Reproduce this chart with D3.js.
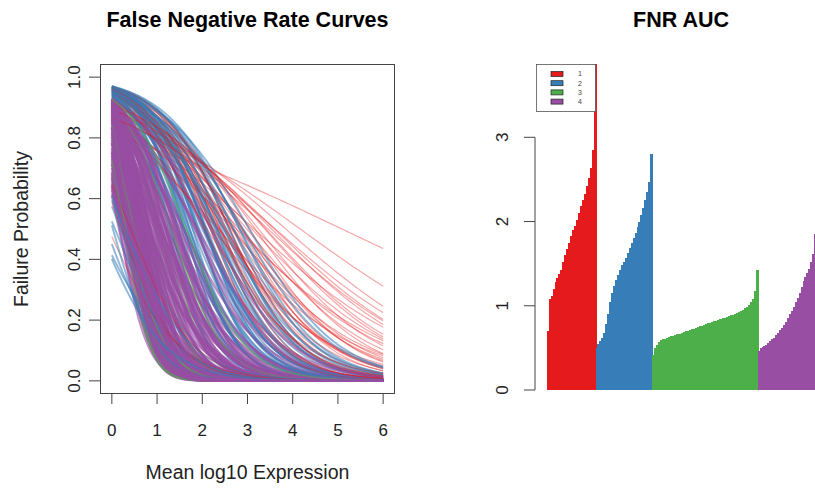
<!DOCTYPE html>
<html>
<head>
<meta charset="utf-8">
<script src="https://cdn.jsdelivr.net/npm/d3@7"></script>
<style>
  body { margin: 0; background: #fff; }
  svg { display: block; font-family: "Liberation Sans", Arial, Helvetica, sans-serif; }
</style>
</head>
<body>
<div id="chart"></div>
<script>
// clusters (RColorBrewer Set1)
const clusterNames = ["1", "2", "3", "4"];
const clusterColors = ["#E41A1C", "#377EB8", "#4DAF4A", "#984EA3"];
const curveOpacity = [0.38, 0.55, 0.55, 0.62];
const curveWidth = [1.2, 1.9, 1.6, 2.5];

// logistic FNR fit per cell: p = 1 / (1 + exp(-(a + b * x)))
const redA = [1.44, 1.80, 2.00, 2.05, 1.90, 2.25, 1.70, 2.40, 1.95, 2.60, 2.15, 1.75, 2.80, 2.50, 2.30,
  1.60, 2.95, 2.70, 3.10, 2.45, 2.85, 3.20, 2.10, 2.65, 1.85, 3.00, 2.35, 2.75, 1.55, 2.20,
  3.30, 2.55, 1.95, 3.40, 2.90, 2.00, 1.70, 2.50, 3.15, 2.30, 2.12, 1.88, -0.10, 0.35, 0.60];
const redB = [-0.283, -0.432, -0.52, -0.57, -0.55, -0.66, -0.54, -0.74, -0.63, -0.82, -0.72, -0.62, -0.92, -0.86, -0.80,
  -0.58, -1.02, -0.98, -1.08, -0.92, -1.12, -1.20, -0.78, -1.05, -0.70, -1.25, -0.95, -1.15, -0.66, -0.88,
  -1.38, -1.10, -0.82, -1.30, -1.30, -0.95, -0.76, -1.22, -1.45, -0.68, -0.60, -0.52, -1.30, -1.60, -1.45];

const blueA = [3.50, 3.45, 3.38, 3.42, 3.30, 3.35, 3.25, 3.20, 3.40, 3.15, 3.28, 3.05, 3.10, 3.22, 2.98,
  3.00, 3.32, 2.90, 2.85, 3.12, 2.80, 2.95, 3.18, 2.75, 3.48, 2.70, 3.08, 2.88, 3.36, 2.65,
  3.02, 2.78, 3.26, 2.92, 3.44, 2.60, 3.14, 2.82, 3.06, 2.55, 2.72, 3.34, 2.96, 3.24, 2.68,
  3.16, 2.84, 3.46, 2.90, 3.10, -0.35, 0.10, 0.30, -0.20, 0.45, 0.05, 0.38, -0.40];
const blueB = [-1.35, -1.42, -1.30, -1.55, -1.48, -1.62, -1.40, -1.70, -1.78, -1.52, -1.90, -1.45, -1.65, -2.00, -1.58,
  -1.80, -2.15, -1.50, -1.72, -1.95, -1.38, -2.05, -1.28, -1.60, -1.95, -1.85, -1.22, -1.32, -1.25, -1.48,
  -1.12, -1.18, -1.15, -1.25, -1.22, -1.30, -1.38, -2.25, -2.35, -1.95, -1.10, -1.45, -1.42, -1.58, -1.68,
  -1.85, -1.92, -1.68, -1.00, -1.02, -1.20, -1.45, -1.55, -1.60, -1.90, -2.10, -1.35, -1.40];

const greenA = [1.50, 2.00, 1.80, 2.20, 1.20, 2.40, 0.90, 1.65, 2.10, 1.35, 2.50, 1.00, 2.30, 1.70, 0.75, 2.55];
const greenB = [-3.80, -3.50, -2.50, -2.00, -3.20, -3.00, -2.90, -2.20, -4.00, -2.70, -2.60, -3.60, -1.75, -4.30, -2.30, -1.55];

const purpleA = [2.58, 2.41, 2.20, 1.95, 2.52, 1.72, 2.33, 1.48, 2.10, 2.55, 1.25, 1.88, 2.45, 1.60, 1.02,
  2.28, 1.80, 0.85, 2.50, 1.35, 2.05, 0.65, 1.66, 2.38, 1.12, 1.92, 0.48, 2.22, 1.42, 0.92,
  2.56, 1.74, 0.70, 2.12, 1.28, 2.44, 0.55, 1.58, 1.98, 1.05, 2.30, 0.80, 1.46, 1.84, 0.62,
  1.20, 2.18, 0.95, 1.62, 0.45, 1.35, 0.75, 1.90, 1.15, 0.58, 2.46, 2.05, 2.60, 1.82, 2.25,
  2.35, 1.55, 2.15, 2.48, 1.30, 2.00, 1.50, 1.00, 2.40, 1.70, 0.90, 2.25, 1.40, 0.68, 1.95,
  1.10, 2.52, 1.78, 1.18, 0.72, 2.08, 1.52, 2.32, 0.98, 1.65, 0.52, 2.42, 1.88, 1.26, 2.15,
  2.50, 2.30, 2.10, 1.90, 2.45, 1.70, 2.20, 2.55, 1.60, 2.00, 2.40, 1.85, 2.28, 1.45, 2.58,
  2.12, 1.75, 2.35, 1.95, 2.48, 2.20, 1.80, 2.50, 1.40, 2.00, 1.10, 2.35, 1.60, 0.85, 2.05,
  1.30, 1.75, 2.28, 0.60, 1.50, 2.40, 1.05, 1.85, 0.78, 2.15];
const purpleB = [-1.40, -1.55, -1.38, -1.30, -1.92, -1.25, -1.95, -1.21, -1.90, -2.45, -1.18, -1.93, -2.62, -1.85, -1.30,
  -2.64, -2.22, -1.34, -3.05, -1.96, -2.72, -1.40, -2.47, -3.24, -2.05, -2.90, -1.52, -3.30, -2.56, -2.10,
  -3.80, -3.02, -2.04, -3.52, -2.73, -3.96, -2.12, -3.20, -3.66, -2.78, -4.10, -2.66, -3.38, -3.82, -2.66,
  -3.30, -4.35, -3.18, -3.90, -2.80, -3.75, -3.22, -4.45, -3.78, -3.25, -1.12, -1.08, -1.28, -1.15, -1.22,
  -1.65, -1.45, -1.62, -1.75, -1.60, -2.35, -2.30, -1.75, -2.90, -2.75, -2.45, -3.70, -3.05, -2.35, -3.35,
  -2.45, -2.25, -1.62, -1.55, -1.75, -2.48, -2.05, -2.95, -2.60, -4.20, -1.85, -2.05, -2.55, -2.25, -3.05,
  -1.70, -1.80, -1.75, -1.60, -2.00, -1.50, -2.10, -1.85, -1.70, -2.20, -2.40, -1.85, -1.58, -1.45, -2.15,
  -2.00, -2.05, -2.20, -1.45, -2.55, -3.10, -3.50, -3.50, -2.35, -2.95, -2.95, -4.05, -2.60, -2.20, -4.00,
  -3.55, -2.40, -3.40, -1.95, -3.65, -3.60, -2.35, -3.15, -2.90, -2.70];

const xTicks = [0, 1, 2, 3, 4, 5, 6];
const yTicks = [0, 0.2, 0.4, 0.6, 0.8, 1.0];
const aucTicks = [0, 1, 2, 3];

// FNR AUC per cell, sorted within cluster
const aucRed = [0.70, 1.08, 1.12, 1.20, 1.28, 1.33, 1.38, 1.43, 1.52, 1.60, 1.67, 1.75, 1.83, 1.90, 1.95,
  2.02, 2.10, 2.18, 2.26, 2.33, 2.42, 2.52, 2.63, 2.85, 3.90];
const aucBlue = [0.50, 0.55, 0.58, 0.62, 0.68, 0.78, 0.90, 1.05, 1.15, 1.23, 1.30, 1.37, 1.43, 1.48, 1.52,
  1.57, 1.63, 1.69, 1.74, 1.80, 1.86, 1.93, 2.00, 2.08, 2.16, 2.25, 2.35, 2.47, 2.80];
const aucGreen = [0.42, 0.50, 0.54, 0.57, 0.59, 0.60, 0.61, 0.62, 0.63, 0.64, 0.645, 0.65, 0.66, 0.665, 0.67,
  0.68, 0.69, 0.695, 0.70, 0.71, 0.72, 0.73, 0.74, 0.75, 0.755, 0.76, 0.77, 0.78, 0.79, 0.80,
  0.81, 0.815, 0.82, 0.83, 0.84, 0.845, 0.85, 0.86, 0.87, 0.875, 0.885, 0.89, 0.90, 0.91, 0.925,
  0.94, 0.955, 0.97, 0.99, 1.01, 1.04, 1.08, 1.17, 1.43];
const aucPurple = [0.46, 0.50, 0.51, 0.52, 0.54, 0.56, 0.58, 0.60, 0.62, 0.65, 0.68, 0.71, 0.74, 0.77, 0.81,
  0.86, 0.90, 0.94, 0.99, 1.04, 1.09, 1.15, 1.22, 1.29, 1.34, 1.39, 1.44, 1.52, 1.62, 1.85];

const W = 815, H = 488;
const svg = d3.select("#chart").append("svg").attr("width", W).attr("height", H);
svg.append("rect").attr("width", W).attr("height", H).attr("fill", "#fff");
const defs = svg.append("defs");

// ---------- left panel: FNR curves ----------
const x = d3.scaleLinear().domain([-0.24, 6.24]).range([101, 394]);
const y = d3.scaleLinear().domain([-0.04, 1.04]).range([393, 65]);

const params = [[redA, redB], [blueA, blueB], [greenA, greenB], [purpleA, purpleB]];
const curves = [];
params.forEach(([A, B], k) => {
  A.forEach((a, i) => {
    let order = (i + 0.5) / A.length;
    if (k >= 2) order = 0.35 + order * 0.65; // cluster 3 and 4 cells come later in the cell order
    curves.push({ a, b: B[i], k, order });
  });
});
curves.sort((p, q) => p.order - q.order);

const grid = d3.range(0, 6.0001, 0.05);
const line = d3.line().x(d => x(d[0])).y(d => y(d[1]));

defs.append("clipPath").attr("id", "plotclip")
  .append("rect").attr("x", 101).attr("y", 65).attr("width", 293).attr("height", 328);

svg.append("g").attr("clip-path", "url(#plotclip)")
  .selectAll("path")
  .data(curves)
  .join("path")
  .attr("d", c => line(grid.map(t => [t, 1 / (1 + Math.exp(-(c.a + c.b * t)))])))
  .attr("fill", "none")
  .attr("stroke", c => clusterColors[c.k])
  .attr("stroke-opacity", c => curveOpacity[c.k])
  .attr("stroke-width", c => curveWidth[c.k]);

svg.append("rect").attr("x", 100.5).attr("y", 64.5).attr("width", 294).attr("height", 329)
  .attr("fill", "none").attr("stroke", "#444").attr("stroke-width", 1);

const xAxis = svg.append("g");
xAxis.selectAll("line").data(xTicks).join("line")
  .attr("x1", d => x(d)).attr("x2", d => x(d)).attr("y1", 393).attr("y2", 404)
  .attr("stroke", "#444");
xAxis.selectAll("text").data(xTicks).join("text")
  .attr("x", d => x(d)).attr("y", 436).attr("text-anchor", "middle")
  .attr("font-size", 17).attr("fill", "#222").text(d => d);

const yAxis = svg.append("g");
yAxis.selectAll("line").data(yTicks).join("line")
  .attr("x1", 89).attr("x2", 101).attr("y1", d => y(d)).attr("y2", d => y(d))
  .attr("stroke", "#444");
yAxis.selectAll("text").data(yTicks).join("text")
  .attr("transform", d => `translate(80,${y(d)}) rotate(-90)`)
  .attr("text-anchor", "middle").attr("font-size", 17).attr("fill", "#222")
  .text(d3.format(".1f"));

svg.append("text").attr("x", 247.5).attr("y", 27).attr("text-anchor", "middle")
  .attr("font-size", 21.5).attr("font-weight", "bold").attr("fill", "#000")
  .text("False Negative Rate Curves");
svg.append("text").attr("x", 247.5).attr("y", 479).attr("text-anchor", "middle")
  .attr("font-size", 19.5).attr("fill", "#222").text("Mean log10 Expression");
svg.append("text").attr("transform", "translate(28,229) rotate(-90)")
  .attr("text-anchor", "middle").attr("font-size", 19.5).attr("fill", "#222")
  .text("Failure Probability");

// ---------- right panel: FNR AUC barplot ----------
const aucSeries = [aucRed, aucBlue, aucGreen, aucPurple];
const bars = [];
aucSeries.forEach((vals, k) => vals.forEach(v => bars.push({ k, v })));

const bx = d3.scaleBand().domain(d3.range(bars.length)).range([546.7, 546.7 + bars.length * 1.953]).padding(0);
const by = d3.scaleLinear().domain([0, 3]).range([390, 137.3]);

defs.append("clipPath").attr("id", "barclip")
  .append("rect").attr("x", 540).attr("y", 64).attr("width", 280).attr("height", 330);

svg.append("g").attr("clip-path", "url(#barclip)")
  .selectAll("rect")
  .data(bars)
  .join("rect")
  .attr("x", (d, i) => bx(i))
  .attr("width", bx.bandwidth() + 1)
  .attr("y", d => by(d.v))
  .attr("height", d => by(0) - by(d.v))
  .attr("fill", d => clusterColors[d.k])
  .attr("shape-rendering", "crispEdges");

const aAxis = svg.append("g");
aAxis.append("line").attr("x1", 535).attr("x2", 535).attr("y1", by(3)).attr("y2", by(0)).attr("stroke", "#444");
aAxis.selectAll("line.t").data(aucTicks).join("line").attr("class", "t")
  .attr("x1", 524).attr("x2", 535).attr("y1", d => by(d)).attr("y2", d => by(d))
  .attr("stroke", "#444");
aAxis.selectAll("text").data(aucTicks).join("text")
  .attr("transform", d => `translate(508,${by(d)}) rotate(-90)`)
  .attr("text-anchor", "middle").attr("font-size", 17).attr("fill", "#222").text(d => d);

svg.append("text").attr("x", 681).attr("y", 27).attr("text-anchor", "middle")
  .attr("font-size", 21.5).attr("font-weight", "bold").attr("fill", "#000").text("FNR AUC");

// legend
const legend = svg.append("g");
legend.append("rect").attr("x", 536.5).attr("y", 64.5).attr("width", 59).attr("height", 47)
  .attr("fill", "#fff").attr("stroke", "#555").attr("stroke-width", 0.8);
const rows = legend.selectAll("g").data(clusterNames).join("g")
  .attr("transform", (d, i) => `translate(0,${74 + i * 9.2})`);
rows.append("rect").attr("x", 551).attr("y", -2.5).attr("width", 12).attr("height", 5)
  .attr("fill", (d, i) => clusterColors[i]).attr("stroke", "#222").attr("stroke-width", 0.7);
rows.append("text").attr("x", 580).attr("y", 2.3).attr("text-anchor", "middle")
  .attr("font-size", 7).attr("fill", "#444").text(d => d);
</script>
</body>
</html>
